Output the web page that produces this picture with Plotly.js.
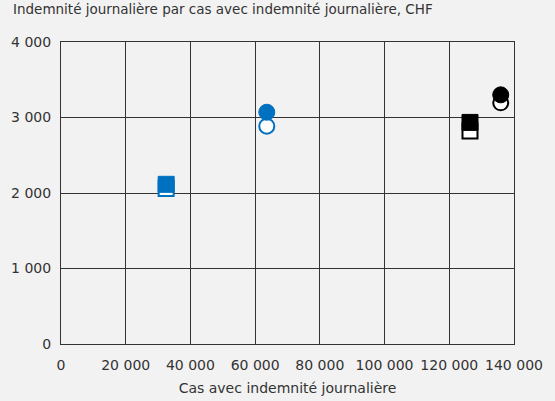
<!DOCTYPE html>
<html>
<head>
<meta charset="utf-8">
<script src="https://cdn.plot.ly/plotly-3.0.1.min.js"></script>
<style>html,body{margin:0;padding:0;background:#f2f2f2;}#chart{width:555px;height:401px;}</style>
</head>
<body>
<div id="chart"></div>
<script>
// Groups (colour / symbol pairs)
const groups = ["Groupe A", "Groupe B", "Groupe C", "Groupe D"];
// Cas avec indemnité journalière
const casPrev = [32500, 63600, 126400, 135900];
const casCurr = [32500, 63600, 126400, 135900];
// Indemnité journalière par cas, CHF
const indemPrev = [2060, 2885, 2820, 3195];
const indemCurr = [2115, 3070, 2935, 3300];

const colors = ["#0070c0", "#0070c0", "#000000", "#000000"];
const symbols = ["square", "circle", "square", "circle"];

const hollow = {
  type: "scatter", mode: "markers", x: casPrev, y: indemPrev, text: groups,
  marker: {size: 15, symbol: symbols, color: "#ffffff", line: {color: colors, width: 2}},
  showlegend: false, hoverinfo: "x+y+text"
};
const filled = {
  type: "scatter", mode: "markers", x: casCurr, y: indemCurr, text: groups,
  marker: {size: 16, symbol: symbols, color: colors, line: {color: colors, width: 1}},
  showlegend: false, hoverinfo: "x+y+text"
};

const fontFam = "DejaVu Sans, Liberation Sans, Arial, sans-serif";
const layout = {
  width: 555, height: 401,
  paper_bgcolor: "#f2f2f2", plot_bgcolor: "#f2f2f2",
  margin: {l: 61, r: 41, t: 42, b: 57},
  separators: ". ",
  font: {family: fontFam, size: 14, color: "#333333"},
  title: {text: "Indemnité journalière par cas avec indemnité journalière, CHF",
          x: 13 / 555, xanchor: "left", xref: "container", y: 0.988, yanchor: "top", yref: "container",
          font: {family: fontFam, size: 13.5, color: "#333333"}},
  xaxis: {range: [0, 140000], dtick: 20000, tickformat: ",d",
          showgrid: true, gridcolor: "#333333", gridwidth: 1,
          showline: true, linecolor: "#333333", linewidth: 1, mirror: true,
          zeroline: false, ticks: "outside", ticklen: 8, tickcolor: "rgba(0,0,0,0)",
          title: {text: "Cas avec indemnité journalière", standoff: 11, font: {size: 14, color: "#333333"}},
          fixedrange: true},
  yaxis: {range: [0, 4000], dtick: 1000, tickformat: ",d",
          showgrid: true, gridcolor: "#333333", gridwidth: 1,
          showline: true, linecolor: "#333333", linewidth: 1, mirror: true,
          zeroline: false, ticks: "outside", ticklen: 6, tickcolor: "rgba(0,0,0,0)",
          fixedrange: true},
  showlegend: false
};
Plotly.newPlot("chart", [hollow, filled], layout, {displayModeBar: false, staticPlot: true});
</script>
</body>
</html>
